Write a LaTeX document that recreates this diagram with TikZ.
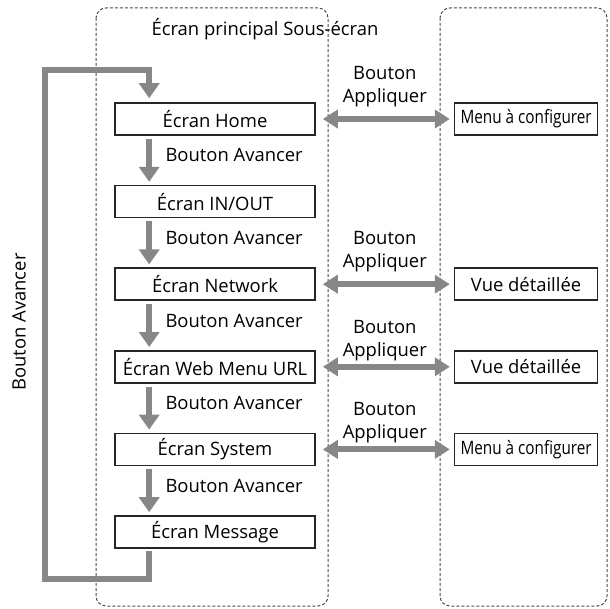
\documentclass[tikz,border=0pt]{standalone}
\usepackage{fontspec}
\setmainfont{Open Sans}
\usetikzlibrary{arrows.meta,positioning}

\begin{document}
\begin{tikzpicture}[
  x=1bp, y=-1bp,
  every node/.style={font=\fontsize{18.5}{23}\selectfont},
  scr/.style={draw=black!85, line width=1.6bp, minimum width=200bp,
              minimum height=32bp, inner sep=0pt},
  sub/.style={scr, minimum width=143bp},
  frame/.style={draw=black!70, line width=1bp, dash pattern=on 3bp off 2bp,
                rounded corners=10bp},
  fwd/.style={draw=black!47, line width=6bp,
              -{Triangle[length=15bp,width=20bp]},
              shorten <=3bp, shorten >=3bp},
  both/.style={draw=black!47, line width=6bp,
               {Triangle[length=15bp,width=18bp]}-{Triangle[length=15bp,width=18bp]},
               shorten <=7bp, shorten >=4bp},
  lbl/.style={align=center},
]
\useasboundingbox (0,0) rectangle (609,609);

\draw[frame] (96,8) rectangle (328,606);
\draw[frame] (440,8) rectangle (607,606);
\node (title) at (265,29) {Écran principal Sous-écran};

\node[scr] (home) at (215,119) {Écran Home};
\node[scr, below=49bp of home] (inout) {Écran IN/OUT};
\node[scr, below=49bp of inout] (net) {Écran Network};
\node[scr, below=49bp of net] (web) {Écran Web Menu URL};
\node[scr, below=49bp of web] (sys) {Écran System};
\node[scr, below=49bp of sys] (msg) {Écran Message};

\node[sub, right=138bp of home] (cfga) {\scalebox{0.83}[1]{Menu à configurer}};
\node[sub, right=138bp of net] (deta) {Vue détaillée};
\node[sub, right=138bp of web] (detb) {Vue détaillée};
\node[sub, right=138bp of sys] (cfgb) {\scalebox{0.83}[1]{Menu à configurer}};

\draw[fwd] ([xshift=35bp]home.south west) -- ([xshift=35bp]inout.north west)
  node[midway, right=10bp, yshift=5bp] {Bouton Avancer};
\draw[fwd] ([xshift=35bp]inout.south west) -- ([xshift=35bp]net.north west)
  node[midway, right=10bp, yshift=5bp] {Bouton Avancer};
\draw[fwd] ([xshift=35bp]net.south west) -- ([xshift=35bp]web.north west)
  node[midway, right=10bp, yshift=5bp] {Bouton Avancer};
\draw[fwd] ([xshift=35bp]web.south west) -- ([xshift=35bp]sys.north west)
  node[midway, right=10bp, yshift=5bp] {Bouton Avancer};
\draw[fwd] ([xshift=35bp]sys.south west) -- ([xshift=35bp]msg.north west)
  node[midway, right=10bp, yshift=5bp] {Bouton Avancer};

\draw[both] (home) -- (cfga) node[lbl, midway, above=6bp] {Bouton\\Appliquer};
\draw[both] (net) -- (deta) node[lbl, midway, above=6bp] {Bouton\\Appliquer};
\draw[both] (web) -- (detb) node[lbl, midway, above=0bp] {Bouton\\Appliquer};
\draw[both] (sys) -- (cfgb) node[lbl, midway, above=0bp] {Bouton\\Appliquer};

\coordinate (lpb) at (45,579);
\coordinate (lpt) at (45,70);
\draw[fwd, shorten <=2bp, shorten >=4bp]
  ([xshift=35bp]msg.south west) |- (lpb) -- (lpt) -| ([xshift=35bp]home.north west);
\node[rotate=90] (loopl) at (19,322) {Bouton Avancer};
\end{tikzpicture}
\end{document}
